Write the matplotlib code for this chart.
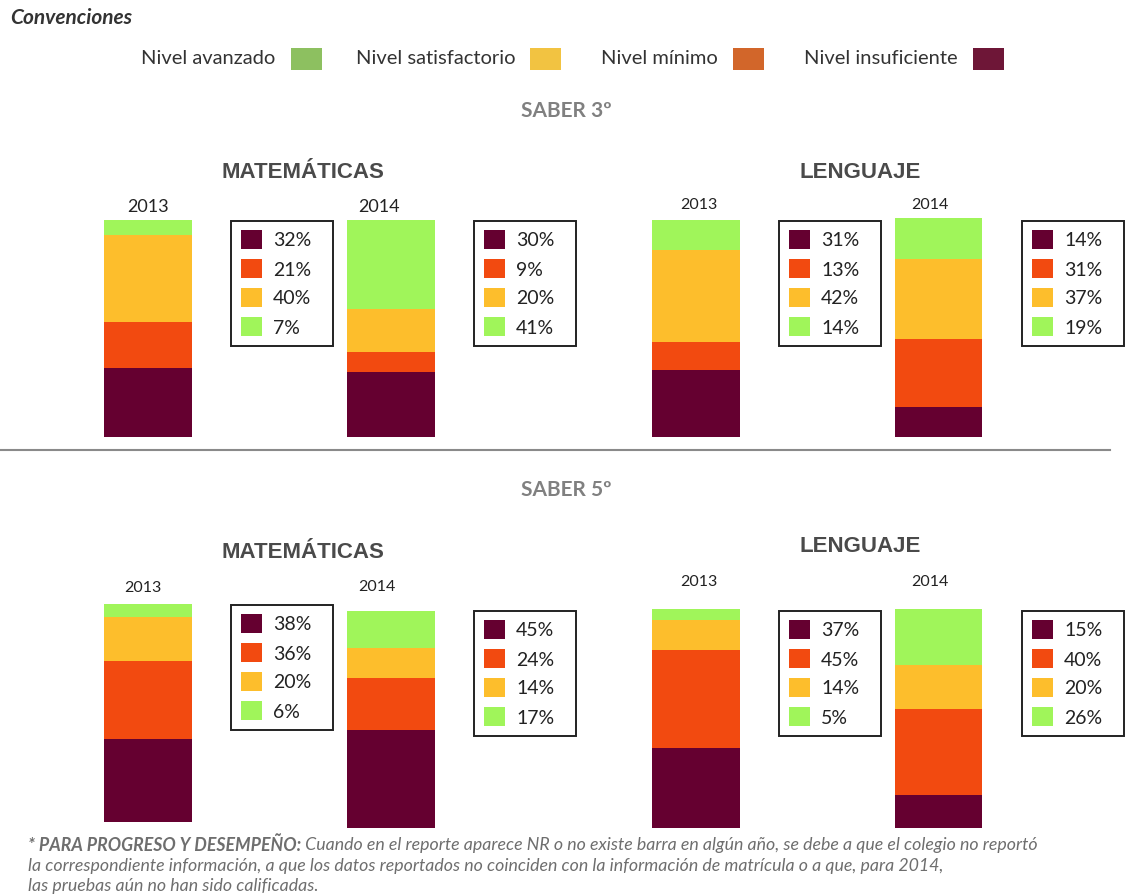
import matplotlib
matplotlib.use("Agg")
import matplotlib.pyplot as plt
from matplotlib.patches import Rectangle

# ---------------- data ----------------
levels = ["Nivel avanzado", "Nivel satisfactorio", "Nivel mínimo", "Nivel insuficiente"]
years = ["2013", "2014"]
grades = ["SABER 3º", "SABER 5º"]
subjects = ["MATEMÁTICAS", "LENGUAJE"]

# stacked order bottom->top: insuficiente, minimo, satisfactorio, avanzado
s3_mat_2013 = [32, 21, 40, 7]
s3_mat_2014 = [30, 9, 20, 41]
s3_len_2013 = [31, 13, 42, 14]
s3_len_2014 = [14, 31, 37, 19]
s5_mat_2013 = [38, 36, 20, 6]
s5_mat_2014 = [45, 24, 14, 17]
s5_len_2013 = [37, 45, 14, 5]
s5_len_2014 = [15, 40, 20, 26]

footnote_bold = "* PARA PROGRESO Y DESEMPEÑO:"
footnote_rest = [" Cuando en el reporte aparece NR o no existe barra en algún año, se debe a que el colegio no reportó",
                 "la correspondiente información, a que los datos reportados no coinciden con la información de matrícula o a que, para 2014,",
                 "las pruebas aún no han sido calificadas."]

# ---------------- styles ----------------
bar_colors = ["#650030", "#F24A10", "#FDBE2C", "#A0F55A"]      # bottom -> top
legend_colors = ["#8DC060", "#F2C341", "#D2662A", "#6E1637"]   # avanzado, satisf, minimo, insuf
FONT = "Lato"
W, H = 1126, 896

fig = plt.figure(figsize=(W / 100, H / 100), dpi=100)
ax0 = fig.add_axes([0, 0, 1, 1])
ax0.set_xlim(0, W)
ax0.set_ylim(H, 0)
ax0.axis("off")

# header
ax0.text(10, 18, "Convenciones", fontsize=15, fontweight="bold", style="italic",
         color="#333333", family=FONT, va="center", ha="left")
leg_text_right = [275, 516, 718, 958]
leg_sq_left = [291, 530, 733, 973]
for lab, col, tr, sl in zip(levels, legend_colors, leg_text_right, leg_sq_left):
    ax0.text(tr, 59, lab, fontsize=14.5, color="#333333", family=FONT, va="center", ha="right")
    ax0.add_patch(Rectangle((sl, 48), 31, 22, facecolor=col, edgecolor="none"))

# section titles
ax0.text(566, 111, grades[0], fontsize=15, fontweight="bold", color="#808080",
         family=FONT, ha="center", va="center")
ax0.text(566, 490, grades[1], fontsize=15, fontweight="bold", color="#808080",
         family=FONT, ha="center", va="center")
ax0.plot([0, 1110], [450, 450], color="#8a8a8a", lw=1.5)

# subject titles (x, y)
subj_pos = [(303, 173, subjects[0]), (860, 172, subjects[1]),
            (303, 553, subjects[0]), (860, 547, subjects[1])]
for x, y, s in subj_pos:
    ax0.text(x, y, s, fontsize=16, fontweight="bold", color="#4a4a4a",
             family="Liberation Sans", ha="center", va="center")

# chart specs: values, bar (left, right, top, bottom), box (left, top), year label (x, y, size), year
charts = [
    (s3_mat_2013, (104, 192, 220, 437), (231, 221), (148, 207, 13), years[0]),
    (s3_mat_2014, (347, 435, 220, 437), (474, 221), (379, 207, 13), years[1]),
    (s3_len_2013, (652, 740, 220, 437), (779, 221), (699, 205, 11.5), years[0]),
    (s3_len_2014, (895, 982, 220, 437), (1022, 221), (930, 205, 11.5), years[1]),
    (s5_mat_2013, (104, 192, 604, 822), (231, 605), (143, 588, 11.5), years[0]),
    (s5_mat_2014, (347, 435, 611, 828), (474, 611), (377, 587, 11.5), years[1]),
    (s5_len_2013, (652, 740, 611, 828), (779, 611), (699, 582, 11.5), years[0]),
    (s5_len_2014, (895, 982, 611, 828), (1022, 611), (930, 582, 11.5), years[1]),
]

box_w, box_h = 102, 125
row_offsets = [19, 48, 77, 106]

for vals, (l, r, t, b), (bl, bt), (lx, ly, lsz), yr in charts:
    ax = fig.add_axes([l / W, 1 - b / H, (r - l) / W, (b - t) / H])
    bottom = 0
    for v, c in zip(vals, bar_colors):
        ax.bar(0, v, width=1.0, bottom=bottom, color=c, edgecolor="none", clip_on=False)
        bottom += v
    ax.set_xlim(-0.5, 0.5)
    ax.set_ylim(0, 100)
    ax.axis("off")
    # year label
    ax0.text(lx, ly, yr, fontsize=lsz, color="#222222", family=FONT, ha="center", va="center")
    # value box
    ax0.add_patch(Rectangle((bl, bt), box_w, box_h, facecolor="white",
                            edgecolor="#222222", lw=1.4))
    for v, c, off in zip(vals, bar_colors, row_offsets):
        ax0.add_patch(Rectangle((bl + 10, bt + off - 9.5), 21, 19, facecolor=c, edgecolor="none"))
        ax0.text(bl + 42, bt + off + 1, f"{v}%", fontsize=14, color="#222222",
                 family=FONT, ha="left", va="center")

# footnote
fc = "#6e6e6e"
fs = 12.8
fy = [845, 866, 886]
t0 = ax0.text(28, fy[0], footnote_bold, fontsize=fs, fontweight="bold", style="italic",
              color=fc, family=FONT, ha="left", va="center")
renderer = fig.canvas.get_renderer()
bb = t0.get_window_extent(renderer=renderer)
x_end = ax0.transData.inverted().transform((bb.x1, bb.y0))[0]
ax0.text(x_end, fy[0], footnote_rest[0], fontsize=fs, style="italic",
         color=fc, family=FONT, ha="left", va="center")
ax0.text(28, fy[1], footnote_rest[1], fontsize=fs, style="italic",
         color=fc, family=FONT, ha="left", va="center")
ax0.text(28, fy[2], footnote_rest[2], fontsize=fs, style="italic",
         color=fc, family=FONT, ha="left", va="center")

fig.savefig("out.png", dpi=100, facecolor="white")
